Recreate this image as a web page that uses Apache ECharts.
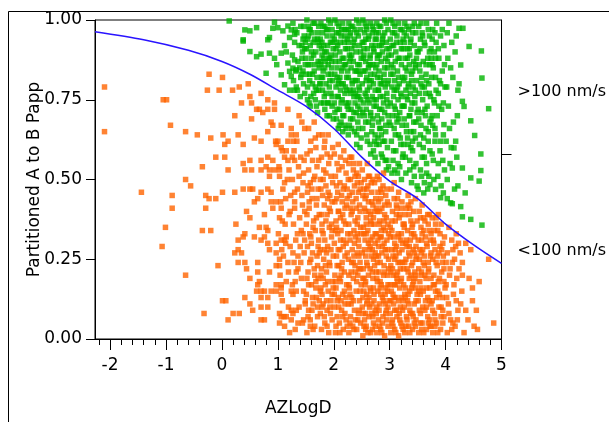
<!DOCTYPE html>
<html>
<head>
<meta charset="utf-8">
<title>Partitioned A to B Papp vs AZLogD</title>
<script src="https://cdn.jsdelivr.net/npm/echarts@6/dist/echarts.min.js"></script>
<style>html,body{margin:0;padding:0;background:#fff;}</style>
</head>
<body>
<div id="main" style="width:609px;height:422px;"></div>
<script type="text/javascript">
// tick labels
var xTicks = [-2, -1, 0, 1, 2, 3, 4, 5];
var yTicks = [0, 0.25, 0.5, 0.75, 1];
var rightTick = [0.578];
var rightLabels = ['>100 nm/s', '<100 nm/s'];
var rightLabelPos = [0.775, 0.275];

// blue boundary curve
var lineX = [-2.27, -1.4, -0.6, 0, 0.5, 1.0, 1.5, 2.0, 2.5, 3.0, 3.5, 4.0, 4.5, 5.0];
var lineY = [0.963, 0.938, 0.905, 0.87, 0.83, 0.78, 0.73, 0.66, 0.57, 0.495, 0.44, 0.36, 0.295, 0.237];

// orange points (< 100 nm/s), sparse edges read one by one
var orangeSparse = [
[-2.10,0.79],[-2.10,0.65],[-1.05,0.75],[-0.99,0.75],[-0.92,0.67],[-0.65,0.65],[-0.44,0.64],[-0.23,0.83],[0.01,0.82],[-0.26,0.78],
[-0.05,0.78],[0.19,0.78],[0.31,0.79],[0.47,0.80],[0.50,0.76],[0.35,0.74],[0.53,0.74],[0.70,0.77],[0.82,0.75],[0.94,0.74],
[0.62,0.72],[0.67,0.72],[0.73,0.71],[0.82,0.72],[0.94,0.72],[0.23,0.70],[0.53,0.69],[-0.20,0.63],[0.02,0.64],[0.05,0.61],
[0.11,0.62],[0.29,0.64],[0.38,0.61],[0.58,0.63],[0.70,0.62],[0.88,0.68],[0.91,0.67],[0.82,0.65],[0.96,0.62],[1.00,0.62],
[0.97,0.61],[1.06,0.60],[1.06,0.67],[1.18,0.72],[1.24,0.66],[1.24,0.64],[1.18,0.62],[1.28,0.62],[1.08,0.59],[1.15,0.59],
[1.12,0.57],[1.18,0.56],[1.30,0.56],[-0.11,0.57],[0.05,0.57],[-0.35,0.54],[0.11,0.53],[0.38,0.55],[0.50,0.56],[0.70,0.56],
[0.82,0.57],[0.91,0.56],[0.79,0.54],[0.41,0.53],[0.53,0.53],[0.70,0.53],[0.85,0.53],[0.94,0.53],[1.03,0.53],[0.85,0.51],
[1.03,0.51],[-0.65,0.50],[-0.56,0.48],[-1.44,0.46],[-0.89,0.45],[-0.89,0.41],[-0.29,0.45],[-0.23,0.44],[-0.11,0.44],[-0.29,0.41],
[0.01,0.46],[0.23,0.46],[0.38,0.47],[0.50,0.47],[0.55,0.47],[-1.01,0.35],[-1.07,0.29],[-0.35,0.34],[-0.20,0.34],[0.25,0.36],
[0.44,0.40],[0.50,0.38],[0.41,0.33],[0.38,0.32],[0.29,0.31],[0.29,0.28],[0.23,0.27],[0.35,0.27],[0.29,0.24],[0.41,0.24],
[0.44,0.22],[0.64,0.24],[0.64,0.21],[-0.07,0.23],[-0.65,0.20],[0.50,0.19],[0.64,0.17],[0.67,0.18],[0.62,0.15],[0.70,0.15],
[0.76,0.15],[0.41,0.13],[0.50,0.11],[0.55,0.09],[0.01,0.12],[0.07,0.12],[-0.32,0.08],[0.20,0.08],[0.31,0.08],[0.11,0.06],
[0.70,0.13],[0.70,0.10],[0.82,0.13],[0.82,0.10],[0.70,0.06],[0.76,0.06],[0.70,0.46],[0.82,0.47],[0.88,0.46],[0.64,0.44],
[0.58,0.43],[0.76,0.39],[0.88,0.43],[0.97,0.43],[1.06,0.41],[0.91,0.41],[1.03,0.38],[0.67,0.35],[0.79,0.35],[0.82,0.34],
[0.58,0.32],[0.70,0.31],[0.76,0.32],[0.82,0.30],[0.85,0.28],[0.97,0.30],[0.97,0.27],[1.06,0.31],[1.12,0.31],[1.15,0.32],
[0.85,0.21],[0.97,0.23],[1.03,0.23],[0.97,0.17],[1.06,0.17],[1.06,0.14],[0.97,0.15],[0.88,0.15],[1.03,0.08],[1.06,0.07],
[1.03,0.05],[1.15,0.07],[1.24,0.06],[1.33,0.09],
[4.77,0.25],[4.86,0.05],[4.51,0.04],[4.57,0.03],[4.60,0.18],[4.48,0.16],[4.48,0.12],[4.27,0.11],[4.36,0.09],[4.30,0.20],
[4.36,0.30],[4.18,0.29],[4.45,0.28],[4.30,0.24],[4.12,0.24],[4.40,0.06],[4.33,0.02],[4.29,0.15],[4.42,0.19],[4.55,0.09],[4.26,0.27]
];

// orange points, dense core (estimated)
var orangeDense = [
[1.02,0.54],[1.17,0.50],[1.09,0.47],[1.23,0.45],[1.05,0.43],[1.20,0.39],[1.13,0.36],[1.01,0.33],[1.22,0.29],[1.10,0.26],
[1.18,0.24],[1.04,0.20],[1.15,0.18],[1.24,0.15],[1.08,0.12],[1.19,0.10],[1.12,0.04],[1.21,0.02],[1.14,0.44],[1.07,0.28],
[1.31,0.03],[1.44,0.05],[1.27,0.08],[1.38,0.10],[1.49,0.12],[1.33,0.15],[1.26,0.17],[1.42,0.19],[1.36,0.22],[1.29,0.24],
[1.47,0.27],[1.40,0.29],[1.32,0.31],[1.45,0.33],[1.28,0.36],[1.39,0.38],[1.48,0.40],[1.30,0.43],[1.43,0.45],[1.35,0.47],
[1.26,0.50],[1.46,0.52],[1.37,0.54],[1.41,0.57],[1.29,0.59],[1.34,0.62],[1.48,0.66],[1.38,0.70],[1.46,0.06],[1.27,0.14],
[1.33,0.21],[1.42,0.34],[1.30,0.41],[1.45,0.49],[1.36,0.26],[1.49,0.11],
[1.52,0.02],[1.66,0.04],[1.58,0.06],[1.71,0.07],[1.55,0.09],[1.63,0.11],[1.74,0.12],[1.51,0.14],[1.68,0.16],[1.60,0.17],
[1.72,0.19],[1.54,0.21],[1.65,0.22],[1.57,0.24],[1.70,0.26],[1.62,0.27],[1.53,0.29],[1.73,0.31],[1.59,0.32],[1.67,0.34],
[1.51,0.36],[1.64,0.37],[1.74,0.39],[1.56,0.41],[1.69,0.42],[1.61,0.44],[1.53,0.46],[1.72,0.47],[1.58,0.49],[1.66,0.51],
[1.55,0.53],[1.70,0.54],[1.62,0.56],[1.52,0.58],[1.68,0.60],[1.59,0.62],[1.73,0.64],[1.55,0.66],[1.65,0.68],[1.61,0.09],
[1.57,0.33],[1.69,0.13],[1.54,0.48],[1.71,0.23],
[1.78,0.03],[1.91,0.02],[1.84,0.05],[1.97,0.06],[1.76,0.08],[1.88,0.09],[1.81,0.11],[1.95,0.12],[1.79,0.14],[1.90,0.15],
[1.85,0.17],[1.98,0.18],[1.77,0.20],[1.87,0.21],[1.93,0.23],[1.82,0.25],[1.99,0.26],[1.76,0.28],[1.89,0.29],[1.84,0.31],
[1.96,0.32],[1.79,0.34],[1.92,0.35],[1.86,0.37],[1.78,0.39],[1.94,0.40],[1.83,0.42],[1.97,0.43],[1.80,0.45],[1.90,0.46],
[1.86,0.48],[1.76,0.50],[1.95,0.51],[1.82,0.53],[1.91,0.55],[1.78,0.57],[1.88,0.58],[1.98,0.60],[1.84,0.62],[1.80,0.64],
[1.93,0.10],[1.87,0.27],[1.81,0.19],[1.96,0.36],[1.89,0.44],[1.77,0.16],
[2.03,0.02],[2.17,0.03],[2.10,0.05],[2.22,0.06],[2.06,0.07],[2.14,0.09],[2.01,0.10],[2.20,0.11],[2.08,0.13],[2.16,0.14],
[2.04,0.16],[2.23,0.17],[2.12,0.18],[2.02,0.20],[2.19,0.21],[2.09,0.23],[2.15,0.24],[2.05,0.26],[2.24,0.27],[2.11,0.28],
[2.01,0.30],[2.18,0.31],[2.07,0.33],[2.13,0.34],[2.21,0.36],[2.04,0.37],[2.16,0.39],[2.09,0.40],[2.23,0.42],[2.02,0.43],
[2.14,0.45],[2.07,0.46],[2.19,0.48],[2.11,0.49],[2.03,0.51],[2.22,0.52],[2.15,0.54],[2.06,0.55],[2.12,0.57],[2.18,0.59],
[2.01,0.58],[2.08,0.61],[2.20,0.08],[2.10,0.19],[2.17,0.29],[2.05,0.35],[2.24,0.44],[2.13,0.12],
[2.27,0.02],[2.41,0.03],[2.34,0.04],[2.48,0.05],[2.30,0.07],[2.44,0.08],[2.37,0.09],[2.26,0.11],[2.46,0.12],[2.32,0.13],
[2.40,0.15],[2.28,0.16],[2.49,0.17],[2.35,0.19],[2.43,0.20],[2.31,0.21],[2.38,0.23],[2.47,0.24],[2.26,0.25],[2.42,0.27],
[2.33,0.28],[2.45,0.29],[2.29,0.31],[2.39,0.32],[2.36,0.34],[2.48,0.35],[2.27,0.36],[2.43,0.38],[2.31,0.39],[2.40,0.41],
[2.46,0.42],[2.34,0.43],[2.28,0.45],[2.44,0.46],[2.37,0.48],[2.49,0.49],[2.30,0.50],[2.41,0.52],[2.35,0.53],[2.27,0.55],
[2.46,0.55],[2.32,0.57],[2.39,0.06],[2.29,0.14],[2.45,0.22],[2.36,0.26],[2.42,0.33],[2.33,0.40],[2.47,0.47],[2.38,0.51],
[2.52,0.01],[2.66,0.02],[2.58,0.04],[2.71,0.05],[2.55,0.06],[2.63,0.07],[2.74,0.09],[2.51,0.10],[2.68,0.11],[2.60,0.12],
[2.72,0.14],[2.54,0.15],[2.65,0.16],[2.57,0.18],[2.70,0.19],[2.62,0.20],[2.53,0.22],[2.73,0.23],[2.59,0.24],[2.67,0.26],
[2.51,0.27],[2.64,0.28],[2.74,0.30],[2.56,0.31],[2.69,0.32],[2.61,0.34],[2.53,0.35],[2.72,0.36],[2.58,0.38],[2.66,0.39],
[2.55,0.41],[2.70,0.42],[2.62,0.43],[2.52,0.45],[2.68,0.46],[2.59,0.47],[2.73,0.49],[2.55,0.50],[2.64,0.51],[2.51,0.53],
[2.60,0.55],[2.57,0.08],[2.69,0.03],[2.63,0.13],[2.54,0.19],[2.71,0.25],[2.65,0.29],[2.58,0.33],[2.73,0.40],[2.61,0.48],
[2.67,0.36],[2.56,0.44],
[2.77,0.02],[2.91,0.01],[2.84,0.03],[2.97,0.04],[2.80,0.06],[2.88,0.07],[2.76,0.08],[2.94,0.09],[2.82,0.11],[2.99,0.12],
[2.87,0.13],[2.79,0.15],[2.93,0.16],[2.85,0.17],[2.77,0.19],[2.96,0.20],[2.81,0.21],[2.90,0.23],[2.78,0.24],[2.98,0.25],
[2.86,0.27],[2.92,0.28],[2.80,0.29],[2.95,0.31],[2.83,0.32],[2.76,0.33],[2.89,0.35],[2.97,0.36],[2.82,0.37],[2.91,0.39],
[2.78,0.40],[2.86,0.41],[2.99,0.42],[2.84,0.44],[2.93,0.45],[2.79,0.46],[2.88,0.48],[2.81,0.50],[2.95,0.47],[2.87,0.05],
[2.92,0.14],[2.83,0.18],[2.98,0.22],[2.76,0.26],[2.90,0.30],[2.85,0.34],[2.94,0.38],[2.80,0.43],[2.97,0.10],[2.89,0.52],
[3.02,0.02],[3.16,0.01],[3.09,0.03],[3.22,0.04],[3.05,0.06],[3.13,0.07],[3.01,0.08],[3.19,0.10],[3.07,0.11],[3.24,0.12],
[3.11,0.13],[3.03,0.15],[3.18,0.16],[3.10,0.17],[3.21,0.19],[3.06,0.20],[3.14,0.21],[3.02,0.23],[3.23,0.24],[3.09,0.25],
[3.17,0.27],[3.04,0.28],[3.12,0.29],[3.20,0.31],[3.07,0.32],[3.15,0.33],[3.01,0.35],[3.24,0.36],[3.10,0.37],[3.18,0.39],
[3.05,0.40],[3.13,0.41],[3.22,0.43],[3.08,0.44],[3.16,0.46],[3.03,0.47],[3.20,0.05],[3.12,0.09],[3.06,0.14],[3.19,0.22],
[3.11,0.26],[3.23,0.30],[3.04,0.34],[3.17,0.38],[3.14,0.18],[3.08,0.49],
[3.27,0.02],[3.41,0.03],[3.34,0.04],[3.47,0.06],[3.30,0.07],[3.38,0.08],[3.26,0.10],[3.44,0.11],[3.32,0.12],[3.49,0.14],
[3.36,0.15],[3.28,0.16],[3.43,0.18],[3.35,0.19],[3.46,0.20],[3.31,0.22],[3.39,0.23],[3.27,0.24],[3.48,0.26],[3.34,0.27],
[3.42,0.28],[3.29,0.30],[3.37,0.31],[3.45,0.32],[3.32,0.34],[3.40,0.35],[3.26,0.36],[3.49,0.37],[3.35,0.39],[3.43,0.40],
[3.30,0.41],[3.38,0.43],[3.46,0.44],[3.33,0.45],[3.44,0.05],[3.36,0.09],[3.28,0.13],[3.41,0.17],[3.47,0.25],[3.31,0.29],
[3.39,0.33],[3.45,0.21],
[3.52,0.02],[3.66,0.03],[3.58,0.05],[3.71,0.06],[3.55,0.08],[3.63,0.09],[3.74,0.11],[3.51,0.12],[3.68,0.13],[3.60,0.15],
[3.72,0.16],[3.54,0.18],[3.65,0.19],[3.57,0.21],[3.70,0.22],[3.62,0.23],[3.53,0.25],[3.73,0.26],[3.59,0.28],[3.67,0.29],
[3.51,0.31],[3.64,0.32],[3.74,0.33],[3.56,0.35],[3.69,0.36],[3.61,0.38],[3.53,0.40],[3.71,0.39],[3.58,0.42],[3.66,0.10],
[3.55,0.14],[3.63,0.20],[3.69,0.24],[3.57,0.27],[3.72,0.04],[3.61,0.34],
[3.77,0.02],[3.91,0.03],[3.84,0.05],[3.97,0.07],[3.80,0.08],[3.88,0.10],[3.76,0.12],[3.94,0.13],[3.82,0.15],[3.99,0.16],
[3.87,0.18],[3.79,0.20],[3.93,0.21],[3.85,0.23],[3.77,0.25],[3.96,0.26],[3.81,0.28],[3.90,0.29],[3.78,0.31],[3.98,0.32],
[3.86,0.34],[3.92,0.36],[3.83,0.38],[3.95,0.09],[3.89,0.14],[3.80,0.17],[3.94,0.24],[3.87,0.39],
[4.03,0.02],[4.17,0.04],[4.09,0.06],[4.22,0.09],[4.05,0.11],[4.14,0.14],[4.01,0.17],[4.20,0.19],[4.08,0.22],[4.16,0.25],
[4.03,0.27],[4.23,0.30],[4.11,0.31],[4.06,0.35],[4.19,0.12],[4.13,0.05]
];

// more orange in the core, filling the gaps (estimated)
var orangeFill = [
[1.11,0.07],[1.36,0.05],[1.24,0.09],[1.46,0.15],[1.06,0.16],[1.31,0.18],[1.19,0.21],[1.41,0.24],[1.03,0.25],[1.27,0.27],
[1.14,0.30],[1.48,0.31],[1.35,0.33],[1.08,0.37],[1.22,0.40],[1.44,0.42],[1.30,0.46],[1.12,0.49],[1.38,0.51],[1.20,0.53],
[1.47,0.56],[1.26,0.57],[1.33,0.64],[1.43,0.68],
[1.63,0.03],[1.88,0.04],[1.54,0.07],[1.79,0.10],[1.97,0.14],[1.68,0.18],[1.52,0.19],[1.85,0.23],[1.74,0.27],[1.95,0.28],
[1.60,0.30],[1.81,0.33],[1.69,0.38],[1.92,0.41],[1.56,0.43],[1.77,0.47],[1.98,0.49],[1.64,0.50],[1.86,0.52],[1.73,0.56],
[1.94,0.57],[1.58,0.59],[1.83,0.60],[1.67,0.63],[1.90,0.64],
[2.11,0.02],[2.36,0.03],[2.24,0.04],[2.46,0.09],[2.06,0.12],[2.31,0.11],[2.19,0.15],[2.41,0.18],[2.03,0.18],[2.27,0.20],
[2.14,0.22],[2.48,0.22],[2.35,0.24],[2.08,0.28],[2.22,0.30],[2.44,0.31],[2.30,0.33],[2.12,0.38],[2.38,0.37],[2.20,0.41],
[2.47,0.40],[2.05,0.44],[2.33,0.46],[2.17,0.47],[2.42,0.49],[2.26,0.50],[2.09,0.53],[2.36,0.55],[2.21,0.56],[2.29,0.57],
[2.61,0.02],[2.86,0.02],[2.74,0.04],[2.95,0.06],[2.54,0.04],[2.68,0.08],[2.81,0.09],[2.59,0.11],[2.92,0.11],[2.72,0.12],
[2.52,0.13],[2.84,0.14],[2.66,0.15],[2.97,0.17],[2.78,0.18],[2.56,0.17],[2.89,0.20],[2.69,0.21],[2.60,0.23],[2.83,0.24],
[2.94,0.26],[2.74,0.27],[2.55,0.28],[2.87,0.29],[2.66,0.31],[2.79,0.31],[2.98,0.33],[2.58,0.36],[2.71,0.38],[2.90,0.37],
[2.63,0.40],[2.82,0.40],[2.96,0.43],[2.75,0.44],[2.54,0.47],[2.86,0.46],[2.67,0.49],[2.78,0.51],[2.62,0.51],[2.70,0.50],
[3.11,0.02],[3.36,0.02],[3.24,0.03],[3.46,0.04],[3.06,0.04],[3.18,0.06],[3.31,0.06],[3.41,0.08],[3.09,0.09],[3.23,0.09],
[3.02,0.12],[3.34,0.11],[3.16,0.12],[3.47,0.12],[3.27,0.14],[3.08,0.17],[3.39,0.16],[3.20,0.18],[3.45,0.19],[3.12,0.20],
[3.33,0.21],[3.02,0.21],[3.25,0.22],[3.41,0.24],[3.15,0.24],[3.06,0.26],[3.36,0.26],[3.22,0.28],[3.47,0.29],[3.09,0.30],
[3.30,0.31],[3.16,0.32],[3.43,0.33],[3.01,0.32],[3.26,0.35],[3.38,0.37],[3.12,0.39],[3.21,0.41],[3.33,0.42],[3.14,0.44],
[3.61,0.02],[3.86,0.02],[3.74,0.04],[3.95,0.05],[3.55,0.05],[3.68,0.07],[3.81,0.06],[3.59,0.10],[3.92,0.10],[3.71,0.12],
[3.52,0.15],[3.84,0.13],[3.66,0.16],[3.97,0.18],[3.78,0.17],[3.56,0.20],[3.89,0.19],[3.69,0.21],[3.60,0.24],[3.83,0.24],
[3.74,0.27],[3.54,0.28],[3.88,0.27],[3.66,0.30],[3.79,0.30],[3.95,0.30],[3.58,0.33],[3.71,0.34],[3.90,0.33],[3.63,0.37],
[3.82,0.36],[3.76,0.38],
[4.11,0.03],[4.06,0.08],[4.21,0.06],[4.02,0.13],[4.15,0.17],[4.24,0.22],[4.07,0.20],[4.13,0.28],[4.01,0.24],[4.19,0.33],
[1.58,0.04],[1.83,0.07],[1.71,0.10],[1.94,0.08],[1.62,0.13],[1.87,0.12],[1.76,0.15],[1.55,0.17],[1.99,0.16],[1.66,0.20],
[1.89,0.18],[1.78,0.22],[1.59,0.25],[1.92,0.24],[1.72,0.29],[1.84,0.28],[1.63,0.35],[1.97,0.34],[1.79,0.36],[1.52,0.39],
[1.88,0.39],[1.70,0.44],[1.93,0.45],[1.61,0.47],[1.81,0.50],
[2.04,0.04],[2.29,0.05],[2.16,0.07],[2.43,0.06],[2.09,0.10],[2.35,0.12],[2.22,0.13],[2.47,0.15],[2.01,0.14],[2.27,0.17],
[2.13,0.20],[2.39,0.21],[2.06,0.23],[2.32,0.24],[2.20,0.26],[2.45,0.26],[2.12,0.31],[2.37,0.30],[2.25,0.33],[2.03,0.34],
[2.49,0.33],[2.18,0.37],[2.42,0.36],[2.08,0.40],[2.30,0.41],[2.15,0.43],[2.40,0.44],[2.24,0.47],[2.05,0.48],[2.44,0.51],
[2.57,0.03],[2.82,0.04],[2.70,0.07],[2.93,0.08],[2.53,0.08],[2.77,0.10],[2.64,0.10],[2.89,0.12],[2.59,0.14],[2.83,0.16],
[2.71,0.16],[2.96,0.15],[2.52,0.19],[2.76,0.21],[2.65,0.22],[2.91,0.21],[2.57,0.26],[2.80,0.26],[2.69,0.28],[2.96,0.28],
[2.62,0.30],[2.85,0.32],[2.74,0.33],[2.54,0.33],[2.92,0.34],[2.66,0.37],[2.81,0.36],[2.57,0.40],[2.76,0.41],[2.91,0.42],
[2.68,0.43],[2.84,0.47],[2.58,0.45],
[3.04,0.05],[3.29,0.04],[3.17,0.08],[3.42,0.07],[3.08,0.13],[3.33,0.14],[3.21,0.13],[3.46,0.16],[3.01,0.17],[3.25,0.17],
[3.13,0.19],[3.38,0.20],[3.05,0.22],[3.29,0.25],[3.18,0.24],[3.44,0.27],[3.10,0.28],[3.35,0.29],[3.21,0.33],[3.04,0.37],
[3.41,0.36],[3.27,0.39],[3.12,0.42],[3.36,0.41],
[3.57,0.03],[3.81,0.04],[3.69,0.05],[3.92,0.07],[3.53,0.09],[3.77,0.09],[3.64,0.12],[3.86,0.15],[3.56,0.16],[3.74,0.19],
[3.97,0.22],[3.62,0.26],[3.85,0.26],[3.52,0.22],[3.73,0.31],[3.93,0.28],[3.57,0.31],[3.80,0.34],[3.68,0.39],[3.55,0.38]
];

// green points (> 100 nm/s), sparse edges read one by one
var greenSparse = [
[0.13,0.997],[0.41,0.969],[0.50,0.966],[0.62,0.976],[0.38,0.938],[0.38,0.934],[0.50,0.901],[0.62,0.885],[0.70,0.893],[0.85,0.896],
[0.94,0.88],[1.06,0.896],[0.82,0.938],[0.85,0.945],[0.91,0.974],[1.00,0.976],[0.94,0.993],[1.09,0.966],[1.18,0.981],[1.24,0.969],
[1.30,0.955],[1.21,0.945],[0.79,0.833],[1.06,0.828],[1.12,0.797],[1.21,0.78],[1.30,0.78],[1.18,0.865],[1.30,0.875],[1.21,0.839],
[1.27,0.849],[1.33,0.844],[1.24,0.823],[1.12,0.92],[1.15,0.90],[0.98,0.86],
[4.64,0.903],[4.65,0.818],[4.77,0.722],[4.52,0.638],[4.63,0.58],[4.63,0.528],[4.45,0.684],[4.42,0.917],[4.30,0.745],[4.33,0.729],
[4.24,0.80],[4.27,0.859],[4.24,0.974],[4.31,0.974],[4.12,0.536],[4.30,0.536],[4.15,0.599],[3.97,0.672],[4.45,0.505],[4.60,0.495],
[4.35,0.458],[4.27,0.415],[4.30,0.383],[4.45,0.375],[4.65,0.357],[4.09,0.427],[4.12,0.424],[3.91,0.443],[3.96,0.458],[4.03,0.44],
[3.82,0.469],[3.72,0.484],[3.61,0.458],[3.51,0.469]
];

// green points, dense core (estimated)
var greenDense = [
[1.27,0.99],[1.41,0.98],[1.34,0.96],[1.47,0.95],[1.30,0.93],[1.38,0.92],[1.44,0.90],[1.26,0.89],[1.36,0.87],[1.49,0.86],
[1.32,0.84],[1.42,0.83],[1.28,0.81],[1.46,0.80],[1.35,0.78],[1.40,0.76],[1.48,0.91],[1.31,0.97],[1.39,0.85],[1.45,0.94],
[1.33,0.79],[1.43,0.88],
[1.52,1.00],[1.66,0.99],[1.58,0.97],[1.71,0.96],[1.55,0.95],[1.63,0.93],[1.74,0.92],[1.51,0.91],[1.68,0.90],[1.60,0.88],
[1.72,0.87],[1.54,0.86],[1.65,0.84],[1.57,0.83],[1.70,0.82],[1.62,0.80],[1.53,0.79],[1.73,0.78],[1.59,0.76],[1.67,0.75],
[1.56,0.74],[1.69,0.73],[1.61,0.96],[1.64,0.89],[1.51,0.83],[1.74,0.85],[1.58,0.92],[1.67,0.79],[1.55,0.98],[1.71,0.94],
[1.77,0.99],[1.91,1.00],[1.84,0.98],[1.97,0.97],[1.80,0.96],[1.88,0.95],[1.76,0.94],[1.94,0.93],[1.82,0.92],[1.99,0.91],
[1.87,0.90],[1.79,0.89],[1.93,0.88],[1.85,0.87],[1.77,0.86],[1.96,0.85],[1.81,0.84],[1.90,0.83],[1.78,0.82],[1.98,0.81],
[1.86,0.80],[1.92,0.79],[1.80,0.78],[1.95,0.77],[1.83,0.76],[1.89,0.74],[1.97,0.73],[1.84,0.72],[1.92,0.70],[1.87,0.97],
[1.79,0.93],[1.95,0.89],[1.82,0.88],[1.98,0.95],[1.76,0.80],[1.90,0.86],
[2.02,1.00],[2.16,0.99],[2.09,0.98],[2.22,0.97],[2.05,0.96],[2.13,0.95],[2.01,0.94],[2.19,0.93],[2.07,0.92],[2.24,0.91],
[2.11,0.90],[2.03,0.89],[2.18,0.88],[2.10,0.87],[2.21,0.86],[2.06,0.85],[2.14,0.84],[2.02,0.83],[2.23,0.82],[2.09,0.81],
[2.17,0.80],[2.04,0.79],[2.12,0.78],[2.20,0.77],[2.07,0.76],[2.15,0.75],[2.01,0.74],[2.24,0.73],[2.10,0.72],[2.18,0.70],
[2.05,0.69],[2.13,0.68],[2.22,0.66],[2.08,0.66],[2.16,0.65],[2.20,0.95],[2.04,0.91],[2.14,0.97],[2.11,0.82],[2.23,0.78],
[2.06,0.72],[2.19,0.86],
[2.27,0.99],[2.41,1.00],[2.34,0.98],[2.48,0.97],[2.30,0.96],[2.44,0.95],[2.37,0.94],[2.26,0.93],[2.46,0.92],[2.32,0.91],
[2.40,0.90],[2.28,0.89],[2.49,0.88],[2.35,0.87],[2.43,0.86],[2.31,0.85],[2.38,0.84],[2.47,0.83],[2.26,0.82],[2.42,0.81],
[2.33,0.80],[2.45,0.79],[2.29,0.78],[2.39,0.77],[2.36,0.76],[2.48,0.75],[2.27,0.74],[2.43,0.73],[2.31,0.72],[2.40,0.71],
[2.46,0.70],[2.34,0.69],[2.28,0.67],[2.44,0.66],[2.37,0.65],[2.49,0.63],[2.41,0.61],[2.47,0.60],[2.30,0.88],[2.38,0.97],
[2.44,0.84],[2.35,0.78],[2.29,0.95],[2.42,0.76],
[2.52,1.00],[2.66,0.99],[2.58,0.98],[2.71,0.97],[2.55,0.96],[2.63,0.95],[2.74,0.94],[2.51,0.93],[2.68,0.92],[2.60,0.91],
[2.72,0.90],[2.54,0.89],[2.65,0.88],[2.57,0.87],[2.70,0.86],[2.62,0.85],[2.53,0.84],[2.73,0.83],[2.59,0.82],[2.67,0.81],
[2.51,0.80],[2.64,0.79],[2.74,0.78],[2.56,0.77],[2.69,0.76],[2.61,0.75],[2.53,0.74],[2.72,0.73],[2.58,0.72],[2.66,0.71],
[2.55,0.70],[2.70,0.69],[2.62,0.68],[2.52,0.66],[2.68,0.65],[2.59,0.64],[2.73,0.62],[2.65,0.61],[2.71,0.59],[2.74,0.57],
[2.57,0.94],[2.63,0.86],[2.54,0.91],[2.69,0.96],[2.60,0.78],[2.66,0.83],
[2.77,0.99],[2.91,1.00],[2.84,0.98],[2.97,0.97],[2.80,0.96],[2.88,0.95],[2.76,0.94],[2.94,0.93],[2.82,0.92],[2.99,0.91],
[2.87,0.90],[2.79,0.89],[2.93,0.88],[2.85,0.87],[2.77,0.86],[2.96,0.85],[2.81,0.84],[2.90,0.83],[2.78,0.82],[2.98,0.81],
[2.86,0.80],[2.92,0.79],[2.80,0.78],[2.95,0.77],[2.83,0.76],[2.76,0.75],[2.89,0.74],[2.97,0.73],[2.82,0.72],[2.91,0.71],
[2.78,0.70],[2.86,0.69],[2.99,0.68],[2.84,0.66],[2.93,0.65],[2.79,0.63],[2.88,0.62],[2.96,0.60],[2.85,0.58],[2.92,0.56],
[2.98,0.54],[2.94,0.53],[2.81,0.61],[2.87,0.93],[2.95,0.91],[2.83,0.80],
[3.02,1.00],[3.16,0.99],[3.09,0.98],[3.22,0.97],[3.05,0.96],[3.13,0.95],[3.01,0.94],[3.19,0.93],[3.07,0.92],[3.24,0.91],
[3.11,0.90],[3.03,0.89],[3.18,0.88],[3.10,0.87],[3.21,0.86],[3.06,0.85],[3.14,0.84],[3.02,0.83],[3.23,0.82],[3.09,0.81],
[3.17,0.80],[3.04,0.79],[3.12,0.78],[3.20,0.77],[3.07,0.76],[3.15,0.75],[3.01,0.74],[3.24,0.73],[3.10,0.72],[3.18,0.71],
[3.05,0.70],[3.13,0.68],[3.22,0.67],[3.08,0.66],[3.16,0.64],[3.03,0.62],[3.20,0.61],[3.11,0.59],[3.23,0.57],[3.06,0.56],
[3.18,0.54],[3.14,0.52],[3.21,0.50],[3.09,0.53],
[3.27,0.99],[3.41,0.98],[3.34,0.97],[3.47,0.96],[3.30,0.95],[3.38,0.94],[3.26,0.93],[3.44,0.92],[3.32,0.91],[3.49,0.90],
[3.36,0.89],[3.28,0.88],[3.43,0.87],[3.35,0.86],[3.46,0.85],[3.31,0.84],[3.39,0.83],[3.27,0.82],[3.48,0.81],[3.34,0.80],
[3.42,0.79],[3.29,0.78],[3.37,0.77],[3.45,0.76],[3.32,0.75],[3.40,0.74],[3.26,0.73],[3.49,0.71],[3.35,0.70],[3.43,0.68],
[3.30,0.67],[3.38,0.65],[3.46,0.63],[3.33,0.61],[3.41,0.59],[3.28,0.57],[3.47,0.55],[3.36,0.53],[3.44,0.51],[3.39,0.49],
[3.52,0.98],[3.66,0.99],[3.58,0.96],[3.71,0.95],[3.55,0.94],[3.63,0.92],[3.74,0.91],[3.51,0.90],[3.68,0.88],[3.60,0.87],
[3.72,0.86],[3.54,0.84],[3.65,0.83],[3.57,0.82],[3.70,0.80],[3.62,0.79],[3.53,0.77],[3.73,0.76],[3.59,0.75],[3.67,0.73],
[3.51,0.72],[3.64,0.70],[3.74,0.69],[3.56,0.67],[3.69,0.65],[3.61,0.63],[3.53,0.61],[3.72,0.59],[3.58,0.57],[3.66,0.55],
[3.55,0.53],[3.70,0.51],[3.62,0.49],[3.68,0.47],
[3.77,0.97],[3.91,0.95],[3.84,0.99],[3.97,0.92],[3.80,0.90],[3.88,0.88],[3.76,0.86],[3.94,0.84],[3.82,0.82],[3.99,0.79],
[3.87,0.77],[3.79,0.75],[3.93,0.72],[3.85,0.70],[3.77,0.67],[3.96,0.64],[3.81,0.62],[3.90,0.59],[3.78,0.56],[3.98,0.53],
[3.86,0.51],[3.92,0.48],[3.83,0.93],[3.89,0.81],
[4.03,0.96],[4.17,0.90],[4.09,0.85],[4.22,0.78],[4.05,0.73],[4.14,0.68],[4.01,0.62],[4.20,0.57],[4.08,0.55],[4.16,0.47],
[4.04,0.88],[4.11,0.93]
];

// more green in the core, filling the gaps (estimated)
var greenFill = [
[1.46,0.98],[1.63,0.99],[1.81,0.98],[1.94,0.99],[1.53,0.94],[1.72,0.93],[1.89,0.92],[1.43,0.92],[1.60,0.90],[1.78,0.91],
[1.96,0.87],[1.50,0.88],[1.67,0.86],[1.84,0.85],[1.41,0.82],[1.57,0.81],[1.75,0.80],[1.93,0.81],[1.48,0.77],[1.64,0.77],
[1.82,0.74],[1.97,0.76],[1.71,0.71],[1.88,0.70],[1.53,0.75],[1.99,0.69],
[2.06,0.99],[2.31,0.98],[2.19,0.97],[2.45,0.99],[2.12,0.93],[2.37,0.92],[2.24,0.94],[2.03,0.87],[2.28,0.87],[2.48,0.90],
[2.16,0.85],[2.41,0.84],[2.08,0.80],[2.33,0.81],[2.21,0.79],[2.46,0.78],[2.13,0.74],[2.38,0.74],[2.26,0.72],[2.02,0.71],
[2.47,0.72],[2.19,0.67],[2.32,0.66],[2.41,0.64],[2.26,0.64],[2.10,0.67],
[2.56,0.99],[2.81,0.98],[2.69,0.98],[2.94,0.99],[2.62,0.94],[2.87,0.94],[2.74,0.92],[2.53,0.88],[2.78,0.88],[2.98,0.89],
[2.66,0.86],[2.91,0.85],[2.58,0.81],[2.83,0.82],[2.71,0.80],[2.96,0.80],[2.63,0.74],[2.88,0.76],[2.76,0.73],[2.52,0.71],
[2.97,0.70],[2.69,0.67],[2.82,0.66],[2.91,0.62],[2.76,0.61],[2.60,0.62],[2.66,0.58],[2.87,0.57],[2.95,0.56],[2.79,0.55],
[3.06,0.99],[3.31,0.98],[3.19,0.97],[3.44,0.99],[3.12,0.93],[3.37,0.93],[3.24,0.94],[3.03,0.86],[3.28,0.85],[3.48,0.88],
[3.16,0.82],[3.41,0.84],[3.08,0.78],[3.33,0.79],[3.21,0.76],[3.46,0.78],[3.13,0.70],[3.38,0.72],[3.26,0.69],[3.02,0.67],
[3.47,0.68],[3.19,0.63],[3.32,0.63],[3.41,0.62],[3.24,0.58],[3.07,0.59],[3.36,0.56],[3.15,0.55],[3.29,0.52],[3.43,0.54],
[3.04,0.52],[3.49,0.48],
[3.56,0.99],[3.81,0.96],[3.69,0.97],[3.94,0.97],[3.62,0.93],[3.87,0.91],[3.74,0.88],[3.53,0.86],[3.78,0.85],[3.98,0.86],
[3.66,0.81],[3.91,0.80],[3.58,0.79],[3.83,0.78],[3.71,0.77],[3.96,0.74],[3.63,0.72],[3.88,0.73],[3.76,0.70],[3.52,0.69],
[3.69,0.62],[3.82,0.64],[3.91,0.62],[3.76,0.58],[3.60,0.60],[3.66,0.52],[3.87,0.55],[3.95,0.56],[3.79,0.50],[3.57,0.51],
[4.06,0.99],[4.19,0.95],[4.13,0.82],[4.02,0.79],[4.21,0.70],[4.07,0.66],[4.18,0.62],[4.03,0.50],[4.22,0.48],[4.10,0.60],
[1.56,0.97],[1.73,0.98],[1.89,0.97],[1.49,0.93],[1.66,0.94],[1.84,0.90],[1.97,0.93],[1.58,0.86],[1.76,0.87],[1.91,0.88],
[1.45,0.84],[1.62,0.83],[1.80,0.82],[1.95,0.83],[1.69,0.78],[1.86,0.77],[1.58,0.73],[1.77,0.74],[1.91,0.74],
[2.09,0.96],[2.26,0.97],[2.41,0.96],[2.04,0.93],[2.21,0.91],[2.35,0.93],[2.15,0.88],[2.32,0.89],[2.46,0.86],[2.06,0.82],
[2.25,0.84],[2.39,0.81],[2.14,0.80],[2.30,0.77],[2.45,0.76],[2.08,0.76],[2.22,0.74],[2.36,0.71],[2.16,0.70],[2.30,0.69],
[2.43,0.68],
[2.59,0.97],[2.76,0.96],[2.91,0.96],[2.54,0.93],[2.71,0.91],[2.85,0.92],[2.65,0.89],[2.82,0.89],[2.96,0.87],[2.56,0.84],
[2.75,0.85],[2.89,0.81],[2.64,0.81],[2.80,0.78],[2.95,0.75],[2.58,0.76],[2.72,0.75],[2.86,0.72],[2.66,0.70],[2.80,0.68],
[2.93,0.67],[2.57,0.68],[2.74,0.64],[2.85,0.64],
[3.09,0.96],[3.26,0.96],[3.41,0.96],[3.04,0.92],[3.21,0.91],[3.35,0.91],[3.15,0.88],[3.32,0.88],[3.46,0.86],[3.06,0.83],
[3.25,0.81],[3.39,0.81],[3.14,0.79],[3.30,0.76],[3.45,0.74],[3.08,0.73],[3.22,0.73],[3.36,0.70],[3.16,0.69],[3.30,0.65],
[3.43,0.65],[3.10,0.64],[3.25,0.61],[3.38,0.60],
[3.59,0.95],[3.76,0.94],[3.54,0.91],[3.71,0.90],[3.65,0.86],[3.82,0.88],[3.56,0.80],[3.75,0.82],[3.64,0.77],[3.80,0.74],
[3.58,0.71],[3.72,0.68],[3.65,0.66],[3.55,0.64],[3.81,0.66],[3.62,0.57]
];

var myChart = echarts.init(document.getElementById('main'));

var xMin = -2.27, xMax = 5;
var minorTicks = [];
for (var t = -2.2; t < xMax + 0.001; t += 0.2) {
	var r = Math.round(t * 10) / 10;
	if (Math.abs(r - Math.round(r)) > 0.01) minorTicks.push(r);
}
var font = 'DejaVu Sans';

var linePts = lineX.map(function (x, i) { return [x, lineY[i]]; });

myChart.setOption({
	animation: false,
	backgroundColor: '#fff',
	textStyle: { fontFamily: font, color: '#000' },
	grid: {
		left: 95, right: 106, top: 20, bottom: 82,
		show: true, borderColor: '#000', borderWidth: 1, backgroundColor: 'transparent'
	},
	graphic: [
		{ type: 'line', shape: { x1: 8.5, y1: 11.5, x2: 609, y2: 11.5 }, style: { stroke: '#000', lineWidth: 1 } },
		{ type: 'line', shape: { x1: 8.5, y1: 11.5, x2: 8.5, y2: 422 }, style: { stroke: '#000', lineWidth: 1 } }
	],
	xAxis: [{
		type: 'value', min: xMin, max: xMax,
		name: 'AZLogD', nameLocation: 'middle', nameGap: 61, nameMoveOverlap: false,
		nameTextStyle: { fontSize: 17, fontFamily: font, color: '#000' },
		axisLine: { onZero: false, lineStyle: { color: '#000', width: 1 } },
		axisTick: { customValues: xTicks, length: 11, lineStyle: { color: '#000' } },
		axisLabel: { customValues: xTicks, fontSize: 17, fontFamily: font, color: '#000', margin: 18 },
		splitLine: { show: false }
	}, {
		type: 'value', min: xMin, max: xMax, position: 'bottom',
		axisLine: { show: false },
		axisTick: { customValues: minorTicks, length: 6, lineStyle: { color: '#000' } },
		axisLabel: { show: false },
		splitLine: { show: false }
	}],
	yAxis: [{
		type: 'value', min: 0, max: 1, interval: 0.25,
		name: 'Partitioned A to B Papp', nameLocation: 'middle', nameGap: 52, nameMoveOverlap: false,
		nameTextStyle: { fontSize: 17, fontFamily: font, color: '#000' },
		axisLine: { show: true, onZero: false, lineStyle: { color: '#000', width: 1 } },
		axisTick: { show: true, length: 9, lineStyle: { color: '#000' } },
		axisLabel: {
			customValues: yTicks, fontSize: 17, fontFamily: font, color: '#000', margin: 13,
			formatter: function (v) { return v.toFixed(2); }
		},
		splitLine: { show: false }
	}, {
		type: 'value', min: 0, max: 1, position: 'right',
		axisLine: { show: true, onZero: false, lineStyle: { color: '#000', width: 1 } },
		axisTick: { show: true, customValues: rightTick, length: 10, lineStyle: { color: '#000' } },
		axisLabel: {
			customValues: rightLabelPos, fontSize: 16, fontFamily: font, color: '#000', margin: 16,
			formatter: function (v) {
				for (var i = 0; i < rightLabelPos.length; i++) {
					if (Math.abs(rightLabelPos[i] - v) < 1e-6) return rightLabels[i];
				}
				return '';
			}
		},
		splitLine: { show: false }
	}],
	series: [{
		name: '>100 nm/s', type: 'scatter', symbol: 'rect', symbolSize: 5.5,
		itemStyle: { color: '#00b400' },
		data: greenSparse.concat(greenDense, greenFill)
	}, {
		name: '<100 nm/s', type: 'scatter', symbol: 'rect', symbolSize: 5.5,
		itemStyle: { color: '#ff6400' },
		data: orangeSparse.concat(orangeDense, orangeFill)
	}, {
		name: 'boundary', type: 'line', smooth: 0.3, showSymbol: false, z: 5,
		lineStyle: { color: '#2a14ff', width: 1.5 },
		data: linePts
	}]
});
</script>
</body>
</html>
